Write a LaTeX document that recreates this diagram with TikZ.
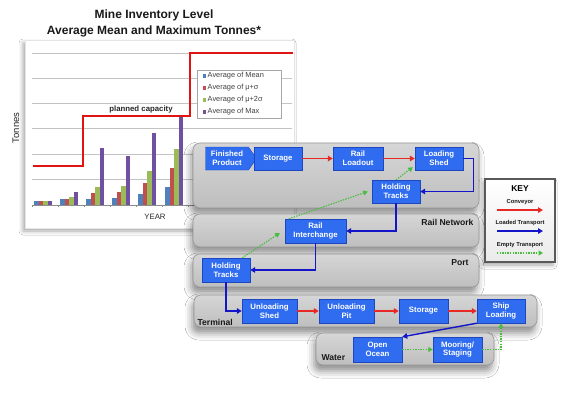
\documentclass[tikz,border=0pt]{standalone}
\usepackage{fontspec}
\setmainfont{Liberation Sans}
\usetikzlibrary{shadows.blur,arrows.meta,calc,shapes.symbols}
\definecolor{boxblue}{RGB}{48,108,240}
\definecolor{boxedge}{RGB}{30,70,190}
\definecolor{convred}{RGB}{232,40,36}
\definecolor{loadblue}{RGB}{20,20,200}
\definecolor{emptygreen}{RGB}{70,190,60}
\definecolor{panelhi}{RGB}{214,214,214}
\definecolor{panello}{RGB}{190,190,190}
\definecolor{paneledge}{RGB}{150,150,150}
\definecolor{cMean}{RGB}{79,129,189}
\definecolor{cSig}{RGB}{192,80,77}
\definecolor{cTwo}{RGB}{155,187,89}
\definecolor{cMax}{RGB}{112,80,160}
\definecolor{gridgrey}{RGB}{195,195,195}
\definecolor{capred}{RGB}{225,20,20}
\tikzset{
  box/.style={fill=boxblue, draw=boxedge, line width=0.4pt, text=white,
    font=\bfseries\fontsize{7.8}{8.6}\selectfont, align=center,
    minimum height=23pt, inner sep=1pt},
  panel/.style={top color=panelhi, bottom color=panello, draw=paneledge,
    line width=0.6pt, rounded corners=7pt,
    blur shadow={shadow xshift=-2pt, shadow yshift=-6pt, shadow blur radius=7pt, shadow opacity=45}},
  plabel/.style={font=\bfseries\fontsize{8.6}{9.6}\selectfont, text=black!90},
  conv/.style={convred, line width=1.3pt, -{Triangle[length=5pt,width=5.5pt]}},
  loaded/.style={loadblue, line width=1.4pt, -{Triangle[length=5pt,width=5.5pt]}},
  emptyt/.style={emptygreen, line width=1.1pt, dash pattern=on 1.4pt off 1.2pt, -{Triangle[length=4.5pt,width=5pt]}},
  legtext/.style={font=\fontsize{7.4}{8}\selectfont, text=black!75, anchor=west, inner sep=0pt},
  keytext/.style={font=\bfseries\fontsize{5.8}{6.4}\selectfont, text=black!90, inner sep=0pt},
}
\begin{document}
\begin{tikzpicture}[x=1pt,y=-1pt]
\fill[white] (0,0) rectangle (583,408);
\useasboundingbox (0,0) rectangle (583,408);

% ---------- chart ----------
\node[font=\bfseries\fontsize{12}{13}\selectfont, text=black!90] (t1) at (154,15) {Mine Inventory Level};
\node[font=\bfseries\fontsize{12}{13}\selectfont, text=black!90] (t2) at (154,31) {Average Mean and Maximum Tonnes*};
\path[fill=white, draw=black!10, line width=0.5pt,
  blur shadow={shadow xshift=-2pt, shadow yshift=-3pt, shadow blur radius=4pt, shadow opacity=35}]
  (25,40) rectangle (294,228);
\foreach \gy in {53,78,103,128,154,179} { \draw[gridgrey, line width=0.5pt] (32,\gy) -- (292,\gy); }
\draw[black!45, line width=0.5pt] (32,205) -- (292,205);
\foreach \tx in {32,58,84,110,136,162,188} { \draw[black!45, line width=0.4pt] (\tx,205) -- (\tx,207); }
\foreach \gx/\a/\b/\c/\d in {34/201/201/201/201, 60/199/199/197/192, 86/199/193/187/148,
    112/198/192/186/156, 138/194/183/171/133, 165/187/168/149/117} {
  \fill[cMean] (\gx,205) rectangle ({\gx+4.6},\a);
  \fill[cSig]  ({\gx+4.6},205) rectangle ({\gx+9.2},\b);
  \fill[cTwo]  ({\gx+9.2},205) rectangle ({\gx+13.8},\c);
  \fill[cMax]  ({\gx+13.8},205) rectangle ({\gx+18.4},\d);
}
\draw[capred, line width=2.3pt] (33,166) -- (83,166) -- (83,116) -- (190,116) -- (190,53) -- (293,53);
\node[font=\bfseries\fontsize{7.8}{8}\selectfont, text=black!85] (cap) at (141,109) {planned capacity};
\node[rotate=90, font=\fontsize{9.5}{10}\selectfont, text=black!85] (yl) at (16,128) {Tonnes};
\node[font=\fontsize{7.8}{8}\selectfont, text=black!85] (xl) at (155,217) {YEAR};
% legend
\draw[black!35, fill=white, line width=0.5pt] (197,70) rectangle (281,118);
\foreach \ly/\lc/\lt in {76/cMean/{Average of Mean}, 88/cSig/{Average of μ+σ},
    100/cTwo/{Average of μ+2σ}, 112/cMax/{Average of Max}} {
  \fill[\lc] (202.5,{\ly-1.8}) rectangle (206.1,{\ly+1.8});
  \node[legtext] at (207.5,\ly) {\lt};
}

% ---------- panels ----------
\path[panel] (193,143) rectangle (479,208);
\path[panel] (193,214) rectangle (479,247);
\path[panel] (193,254) rectangle (479,287);
\path[panel] (194,295) rectangle (537,327);
\path[panel] (316,333) rectangle (494,365);
\node[plabel, anchor=east] (lrn) at (477,222) {Rail Network};
\node[plabel, anchor=east] (lport) at (472,263) {Port};
\node[plabel, anchor=west] (lterm) at (194,322) {Terminal};
\node[plabel, anchor=west] (lwat) at (318,358) {Water};

% ---------- key ----------
\path[top color=white, bottom color=black!8, draw=black!65, line width=1.2pt,
  blur shadow={shadow xshift=-2pt, shadow yshift=-3pt, shadow blur radius=4pt, shadow opacity=35}]
  (485,179) rectangle (555,262);
\node[font=\bfseries\fontsize{8.5}{9}\selectfont] (key) at (520,189) {KEY};
\node[keytext] (kc) at (520,202) {Conveyor};
\coordinate (kc1) at (497,210); \coordinate (kc2) at (543,210);
\draw[conv] (kc1) -- (kc2);
\node[keytext] (kl) at (520,223) {Loaded Transport};
\coordinate (kl1) at (497,231); \coordinate (kl2) at (543,231);
\draw[loaded] (kl1) -- (kl2);
\node[keytext] (ke) at (520,245) {Empty Transport};
\coordinate (ke1) at (497,253); \coordinate (ke2) at (543,253);
\draw[emptyt] (ke1) -- (ke2);

% ---------- nodes ----------
\node[box, shape=signal, signal to=east, signal pointer angle=110, minimum width=51pt] (fp) at (227,158.5) {Finished\\Product};
\node[box, minimum width=48pt] (st1) at (278,158.5) {Storage};
\node[box, minimum width=50pt] (rl) at (358,158.5) {Rail\\Loadout};
\node[box, minimum width=48pt] (ls) at (439,158.5) {Loading\\Shed};
\node[box, minimum width=48pt] (ht1) at (396,191.5) {Holding\\Tracks};
\node[box, minimum width=61pt, minimum height=24pt] (ri) at (315.5,231) {Rail\\Interchange};
\node[box, minimum width=48pt, minimum height=24pt] (ht2) at (226,270) {Holding\\Tracks};
\node[box, minimum width=55pt, minimum height=24pt] (us) at (269.5,311) {Unloading\\Shed};
\node[box, minimum width=55pt, minimum height=24pt] (up) at (346.5,311) {Unloading\\Pit};
\node[box, minimum width=49pt, minimum height=24pt] (st2) at (423.5,311) {Storage};
\node[box, minimum width=48pt, minimum height=24pt] (sl) at (501,311) {Ship\\Loading};
\node[box, minimum width=49pt, minimum height=25pt] (oo) at (377.5,349.5) {Open\\Ocean};
\node[box, minimum width=49pt, minimum height=25pt] (ms) at (457.5,349.5) {Mooring/\\Staging};

% ---------- connectors ----------
\draw[conv] (st1) -- (rl);
\draw[conv] (rl) -- (ls);
\draw[conv] (us) -- (up);
\draw[conv] (up) -- (st2);
\draw[conv] (st2) -- (sl);
\draw[loaded] (ls.east) -- ++(10,0) |- (ht1.east);
\draw[loaded] (ht1.south) |- (ri.east);
\draw[loaded] (ri.south) |- (ht2.east);
\draw[loaded] (ht2.south) |- (us.west);
\draw[loaded] (sl.south west) -- (oo.north east);
\draw[emptyt] ($(ht2.north east)+(-8,0)$) -- ($(ri.west)+(-5,2)$);
\draw[emptyt] ($(ri.north west)+(4,0)$) -- ($(ht1.west)+(-4,0)$);
\draw[emptyt] (ht1.north) -- ($(ls.south west)+(-2,-3)$);
\draw[emptyt] (oo) -- (ms);
\draw[emptyt] (ms.east) -| (sl.south);
\end{tikzpicture}
\end{document}
